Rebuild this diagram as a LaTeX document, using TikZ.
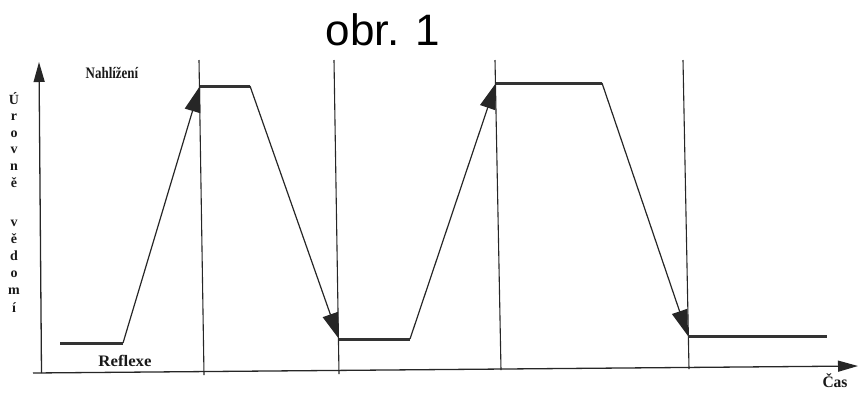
\documentclass[tikz,border=0pt]{standalone}
\usepackage{fontspec}
\setmainfont{Liberation Serif}
\newfontfamily\labelfont{Liberation Serif}
\newfontfamily\titlefont{Liberation Sans}
\usetikzlibrary{arrows.meta}
\begin{document}
\begin{tikzpicture}[x=1pt,y=-1pt,
  grid/.style={line width=1.1pt, draw=black!85},
  plateau/.style={line width=3pt, draw=black!80},
  slope/.style={line width=1.2pt, draw=black!85, -{Triangle[length=26pt,width=16pt]}},
  axisline/.style={line width=1.3pt, draw=black!85, -{Triangle[length=20pt,width=11pt]}},
  lbl/.style={font=\labelfont\bfseries\fontsize{16}{18}\selectfont, inner sep=0pt, text=black!90},
  vlbl/.style={font=\labelfont\bfseries\fontsize{14}{16}\selectfont, inner sep=0pt, text=black!90},
  ttl/.style={font=\titlefont\fontsize{44}{50}\selectfont, inner sep=0pt}]
\useasboundingbox (0,0) rectangle (859,392);
% axes
\coordinate (o) at (41.5,373);
\coordinate (ytop) at (39,62);
\coordinate (xl) at (33,373);
\coordinate (xr) at (858,366);
\draw[axisline] (o) -- (ytop);
\draw[axisline] (xl) -- (xr);
% vertical separators
\coordinate (v1t) at (199,60); \coordinate (v1b) at (204,375);
\coordinate (v2t) at (334,60); \coordinate (v2b) at (339,374);
\coordinate (v3t) at (495,60); \coordinate (v3b) at (501,370);
\coordinate (v4t) at (683,60); \coordinate (v4b) at (689,369);
\draw[grid] (v1t) -- (v1b);
\draw[grid] (v2t) -- (v2b);
\draw[grid] (v3t) -- (v3b);
\draw[grid] (v4t) -- (v4b);
% signal
\coordinate (a) at (60,343);
\coordinate (b) at (123,343);
\coordinate (c) at (200,86);
\coordinate (d) at (250,86);
\coordinate (e) at (339,339);
\coordinate (f) at (410,339);
\coordinate (g) at (496,83);
\coordinate (h) at (602,83);
\coordinate (i) at (688,336);
\coordinate (j) at (827,336);
\draw[plateau] (a) -- (b);
\draw[plateau] (c) -- (d);
\draw[plateau] (e) -- (f);
\draw[plateau] (g) -- (h);
\draw[plateau] (i) -- (j);
\draw[slope] (b) -- (c);
\draw[slope] (d) -- (e);
\draw[slope] (f) -- (g);
\draw[slope] (h) -- (i);
% labels
\node[ttl] (title) at (383,30) {obr. 1};
\node[lbl] (nah) at (112,73) {\scalebox{0.81}[1]{Nahlížení}};
\node[lbl] (ref) at (125,361) {\scalebox{1.05}[1]{Reflexe}};
\node[lbl] (cas) at (835,381) {\scalebox{0.97}[1]{Čas}};
\foreach \ch/\yy [count=\k] in {Ú/104, r/120, o/137, v/153, n/170, ě/187, v/226, ě/243, d/260, o/277, m/294, í/312}
  \node[vlbl, anchor=base] (vl\k) at (14,\yy) {\ch};
\end{tikzpicture}
\end{document}
